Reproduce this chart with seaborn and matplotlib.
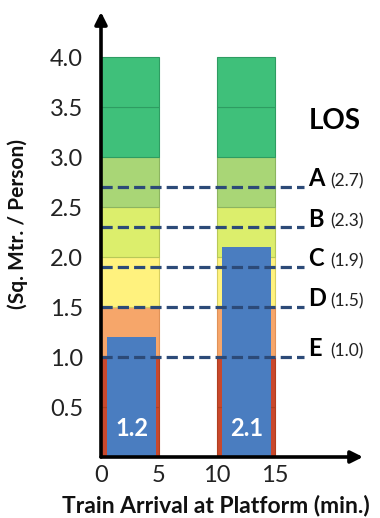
import matplotlib
matplotlib.use("Agg")
import matplotlib.pyplot as plt
import seaborn as sns
import pandas as pd

# Train arrival windows (minutes) and measured space per person
window_starts = [0, 10]
window_length = 5
bar_centers = [2.65, 12.55]
avg_space = [1.2, 2.1]

# Level-of-service thresholds (sq. m per person)
los_letters = ["A", "B", "C", "D", "E"]
los_values = [2.7, 2.3, 1.9, 1.5, 1.0]

# Background service bands, drawn in 0.5 cells
band_bottoms = [0.0, 0.5, 1.0, 1.5, 2.0, 2.5, 3.0, 3.5]
band_colors = ["#C9482C", "#C9482C", "#F6A66A", "#FFF27E", "#DCEE6C",
               "#A9D676", "#3FC07A", "#3FC07A"]
band_edges = ["#B04020", "#B04020", "#E09258", "#D8CE60", "#B8C858",
              "#8CB460", "#2E9C62", "#2E9C62"]

x_ticks = [0, 5, 10, 15]
y_ticks = [0.5, 1.0, 1.5, 2.0, 2.5, 3.0, 3.5, 4.0]

sns.set_style("white")
plt.rcParams["font.family"] = ["Lato", "DejaVu Sans"]

fig = plt.figure(figsize=(3.8, 5.18), dpi=100)
ax = fig.add_axes([101 / 380, 61 / 518, 262 / 380, 445 / 518])

# service bands behind each arrival window
for start in window_starts:
    ax.bar([start] * len(band_bottoms), [0.5] * len(band_bottoms),
           bottom=band_bottoms, width=window_length, align="edge",
           color=band_colors, edgecolor=band_edges, linewidth=0.8, zorder=1)

df = pd.DataFrame({"minute": bar_centers, "space": avg_space})
sns.barplot(data=df, x="minute", y="space", native_scale=True,
            width=4.2 / (bar_centers[1] - bar_centers[0]),
            color="#4A7DC0", saturation=1, linewidth=0, ax=ax, zorder=2)

for xc, v in zip(bar_centers, avg_space):
    ax.text(xc, 0.29, f"{v:.1f}", color="white", fontsize=17,
            fontweight="bold", ha="center", va="center", zorder=5)

# LOS threshold lines and labels
for letter, v in zip(los_letters, los_values):
    ax.plot([0, 17.5], [v, v], color="#2C4A78", lw=2.3,
            linestyle=(0, (3.5, 1.6)), zorder=4, clip_on=False)
    ax.text(17.85, v + 0.08, letter, fontsize=17, fontweight="bold",
            ha="left", va="center", color="black")
    ax.text(19.8, v + 0.06, f"({v:.1f})", fontsize=12.5,
            ha="left", va="center", color="#222222")

ax.text(20.15, 3.36, "LOS", fontsize=20, fontweight="bold",
        ha="center", va="center", color="black")

ax.set_xlim(0, 22.6)
ax.set_ylim(0, 4.45)
for s in ax.spines.values():
    s.set_visible(False)

# axis arrows
ax.annotate("", xy=(22.6, 0), xytext=(0, 0), xycoords="data",
            arrowprops=dict(arrowstyle="-|>", lw=2.6, color="black",
                            mutation_scale=18, shrinkA=0, shrinkB=0),
            annotation_clip=False, zorder=6)
ax.annotate("", xy=(0, 4.45), xytext=(0, 0), xycoords="data",
            arrowprops=dict(arrowstyle="-|>", lw=2.6, color="black",
                            mutation_scale=18, shrinkA=0, shrinkB=0),
            annotation_clip=False, zorder=6)

ax.set_xticks(x_ticks)
ax.set_xticklabels([str(t) for t in x_ticks])
ax.set_yticks(y_ticks)
ax.set_yticklabels([f"{t:.1f}" for t in y_ticks])
ax.tick_params(axis="both", length=0, labelsize=17, colors="#222222")
ax.tick_params(axis="y", pad=13)
ax.tick_params(axis="x", pad=6)

ax.set_xlabel("Train Arrival at Platform (min.)", fontsize=16.5,
              fontweight="bold", color="#111111")
ax.xaxis.set_label_coords(0.44, -0.085)
ax.set_ylabel("(Sq. Mtr. / Person)", fontsize=15, fontweight="bold",
              color="#111111")
ax.yaxis.set_label_coords(-0.277, 0.524)

fig.savefig("out.png", dpi=100)
